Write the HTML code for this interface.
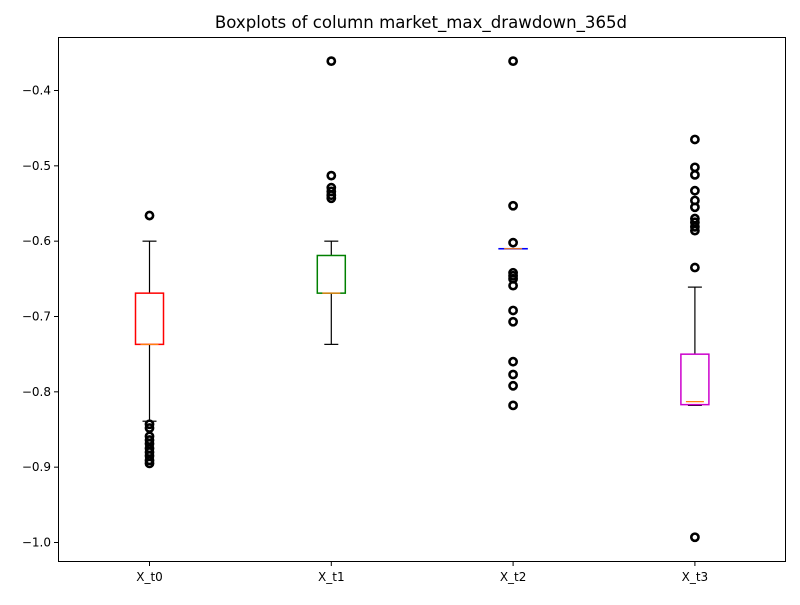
<!DOCTYPE html>
<html><head><meta charset="utf-8"><style>body{margin:0;background:#fff}svg text{font-family:"DejaVu Sans","Liberation Sans",sans-serif}</style></head>
<body>
<svg id="chart" width="800" height="600" xmlns="http://www.w3.org/2000/svg">
<rect width="800" height="600" fill="#fff"/>
<text x="421" y="28" font-size="16.6" text-anchor="middle">Boxplots of column market_max_drawdown_365d</text>
<g id="plot"></g>
<rect x="58.5" y="37.5" width="727" height="524" fill="none" stroke="#000" stroke-width="1"/>
</svg>
<script>
const categories = ["X_t0","X_t1","X_t2","X_t3"];
const boxColors = ["#ff0000","#008000","#0000ff","#cc00cc"];
const whiskerHigh = [-0.600,-0.600,-0.610,-0.661];
const q3 = [-0.669,-0.619,-0.610,-0.750];
const medians = [-0.737,-0.669,-0.610,-0.813];
const q1 = [-0.737,-0.669,-0.610,-0.817];
const whiskerLow = [-0.839,-0.737,-0.610,-0.818];
const outliers0 = [-0.566,-0.843,-0.848,-0.859,-0.864,-0.869,-0.875,-0.880,-0.885,-0.891,-0.895];
const outliers1 = [-0.361,-0.513,-0.529,-0.534,-0.539,-0.543];
const outliers2 = [-0.361,-0.553,-0.602,-0.642,-0.646,-0.650,-0.659,-0.692,-0.707,-0.760,-0.777,-0.792,-0.818];
const outliers3 = [-0.465,-0.502,-0.512,-0.533,-0.546,-0.555,-0.570,-0.575,-0.581,-0.586,-0.635,-0.993];
const outliers = [outliers0,outliers1,outliers2,outliers3];
const yTicks = [-1.0,-0.9,-0.8,-0.7,-0.6,-0.5,-0.4];
const yTickLabels = ["\u22121.0","\u22120.9","\u22120.8","\u22120.7","\u22120.6","\u22120.5","\u22120.4"];

const NS="http://www.w3.org/2000/svg";
const g=document.getElementById('plot');
function y(v){return 90.5+(-0.4-v)*753.33;}
function x(i){return 149.5+i*181.8;}
function mk(tag,attrs){const e=document.createElementNS(NS,tag);for(const k in attrs)e.setAttribute(k,attrs[k]);g.appendChild(e);return e;}
yTicks.forEach((t,i)=>{
  const yy=y(t);
  const tk=mk('line',{x1:54,x2:58,y1:yy,y2:yy,stroke:'#000'});
  
  
  const tx=mk('text',{x:51,y:yy+4,'font-size':12,'text-anchor':'end'});
  tx.textContent=yTickLabels[i];
  
  
});
categories.forEach((c,i)=>{
  const cx=x(i);
  const tk=mk('line',{x1:cx,x2:cx,y1:562,y2:566,stroke:'#000'});
  
  
  const tx=mk('text',{x:cx,y:581,'font-size':12,'text-anchor':'middle'});
  tx.textContent=c;
  
  
  const wh=mk('line',{x1:cx,x2:cx,y1:y(whiskerHigh[i]),y2:y(q3[i]),stroke:'#000','stroke-width':1.2});
  
  
  const wl=mk('line',{x1:cx,x2:cx,y1:y(q1[i]),y2:y(whiskerLow[i]),stroke:'#000','stroke-width':1.2});
  
  
  [whiskerHigh[i],whiskerLow[i]].forEach(v=>{
    const cap=mk('line',{x1:cx-7,x2:cx+7,y1:y(v),y2:y(v),stroke:'#000','stroke-width':1.2});
    
    
  });
  const b=mk('rect',{x:cx-14,y:y(q3[i]),width:28,height:Math.max(y(q1[i])-y(q3[i]),0.1),fill:'none',stroke:boxColors[i],'stroke-width':1.5});
  
  
  const m=mk('line',{x1:cx-9,x2:cx+9,y1:y(medians[i]),y2:y(medians[i]),stroke:'#ff7f0e','stroke-width':1.2});
  
  
  outliers[i].forEach(v=>{
    const o=mk('circle',{cx:cx,cy:y(v),r:3.6,fill:'none',stroke:'#000','stroke-width':2.6});
    
    
  });
});
</script>
</body></html>
